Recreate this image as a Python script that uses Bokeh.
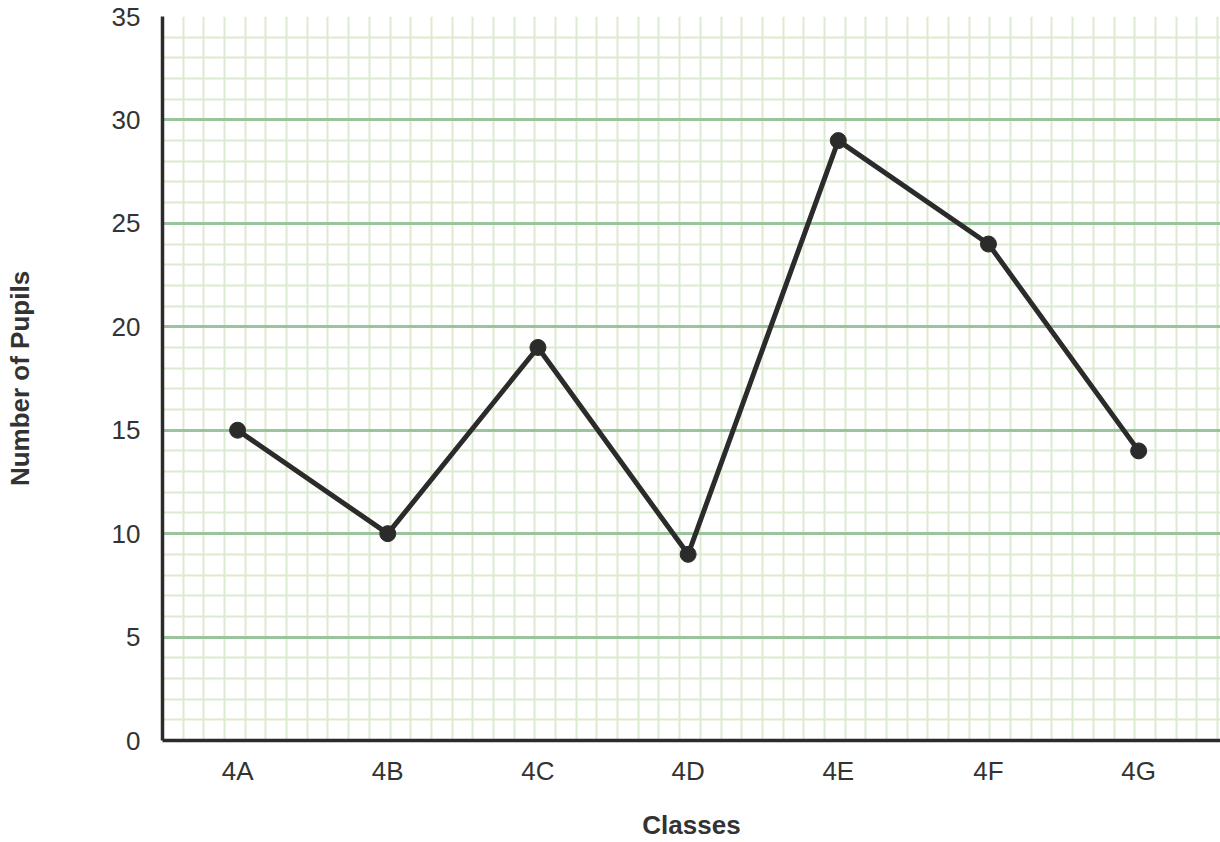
from bokeh.plotting import figure
from bokeh.models import Range1d, FixedTicker, SingleIntervalTicker, ColumnDataSource
from bokeh.embed import file_html
from bokeh.resources import INLINE

# ---- data ----
classes = ["4A", "4B", "4C", "4D", "4E", "4F", "4G"]
pupils = [15, 10, 19, 9, 29, 24, 14]

# ---- layout ----
W, H = 1220, 842
B_LEFT, B_TOP, B_BOTTOM, B_RIGHT = 162, 16, 102, 0
frame_w = W - B_LEFT - B_RIGHT
frame_h = H - B_TOP - B_BOTTOM
X_END = 7.045
Y_END = 35

xs = [i + 0.5 for i in range(len(classes))]
src = ColumnDataSource(dict(x=xs, y=pupils, cls=classes))

TEXT = "#333333"
DARK = "#2b2b2b"
FONT = "Liberation Sans"

p = figure(width=W, height=H, output_backend="svg", toolbar_location=None,
           x_range=Range1d(0, X_END), y_range=Range1d(0, Y_END),
           min_border_left=B_LEFT, min_border_top=B_TOP,
           min_border_bottom=B_BOTTOM, min_border_right=B_RIGHT)
p.outline_line_color = None
p.background_fill_color = "white"
p.border_fill_color = "white"

# square graph-paper grid: vertical lines at same pixel spacing as 1 y unit
px_per_y = frame_h / Y_END
px_per_x = frame_w / X_END
step = px_per_y / px_per_x
n_v = int(X_END / step) + 1
p.xgrid.ticker = FixedTicker(ticks=[k * step for k in range(1, n_v + 1)])
p.xgrid.grid_line_color = "#dcebd0"
p.xgrid.grid_line_width = 2

p.yaxis.ticker = SingleIntervalTicker(interval=5, num_minor_ticks=5)
p.ygrid.grid_line_color = "#9cc49c"
p.ygrid.grid_line_width = 3
p.ygrid.minor_grid_line_color = "#dcebd0"
p.ygrid.minor_grid_line_width = 2

# x axis
p.xaxis.ticker = FixedTicker(ticks=xs)
p.xaxis.major_label_overrides = {x: c for x, c in zip(xs, classes)}
p.xaxis.axis_label = "Classes"
p.yaxis.axis_label = "Number of Pupils"

for ax in (p.xaxis, p.yaxis):
    ax.axis_line_color = DARK
    ax.axis_line_width = 3.5
    ax.major_tick_line_color = None
    ax.minor_tick_line_color = None
    ax.major_label_text_font = FONT
    ax.major_label_text_font_size = "26px"
    ax.major_label_text_color = TEXT
    ax.axis_label_text_font = FONT
    ax.axis_label_text_font_size = "26px"
    ax.axis_label_text_font_style = "bold"
    ax.axis_label_text_color = TEXT

p.xaxis.major_label_standoff = 9
p.xaxis.axis_label_standoff = 21
p.yaxis.major_label_standoff = 16
p.yaxis.axis_label_standoff = 74

p.line("x", "y", source=src, line_color=DARK, line_width=5)
p.scatter("x", "y", source=src, size=16, fill_color=DARK, line_color=DARK)

open("out.html", "w").write(file_html(p, INLINE))
